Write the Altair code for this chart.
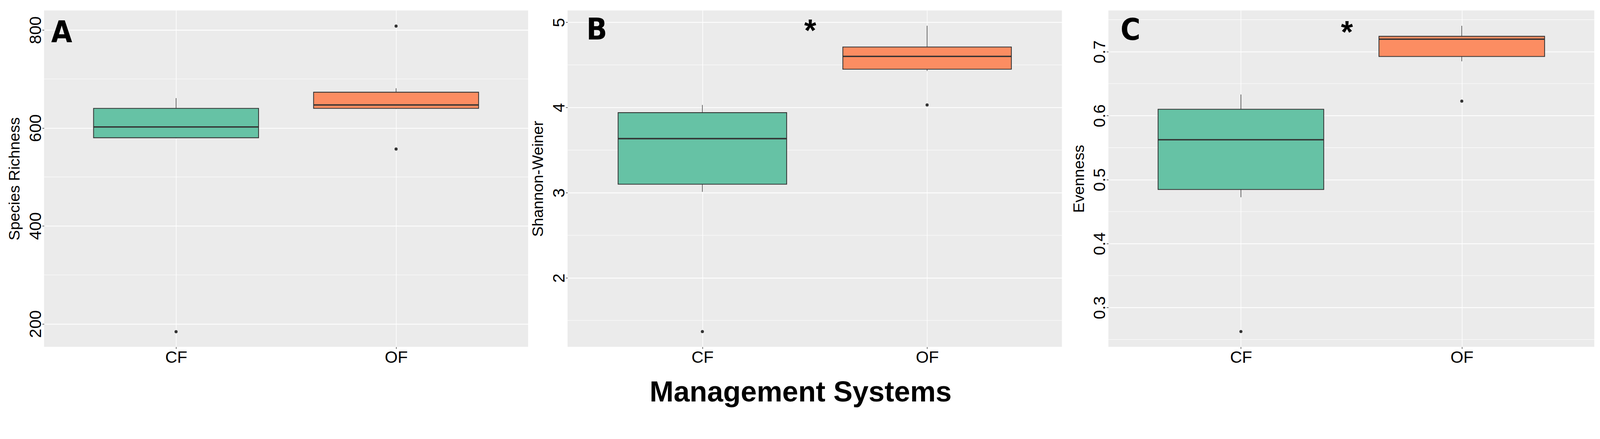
import json
import altair as alt
import pandas as pd

# ---------------- data ----------------
categories = ["CF", "OF"]
positions = [1, 2]
fill_colors = ["#66C2A5", "#FC8D62"]

rich_lower = [579, 639]
rich_q1 = [580, 640]
rich_median = [602, 647]
rich_q3 = [640, 673]
rich_upper = [661, 681]
rich_out_cat = ["CF", "OF", "OF"]
rich_out_val = [184, 808, 557]

shan_lower = [3.01, 4.43]
shan_q1 = [3.10, 4.45]
shan_median = [3.635, 4.60]
shan_q3 = [3.94, 4.71]
shan_upper = [4.03, 4.96]
shan_out_cat = ["CF", "OF"]
shan_out_val = [1.37, 4.03]

even_lower = [0.4725, 0.685]
even_q1 = [0.4845, 0.6925]
even_median = [0.5623, 0.7195]
even_q3 = [0.610, 0.724]
even_upper = [0.633, 0.7405]
even_out_cat = ["CF", "OF"]
even_out_val = [0.2625, 0.6227]

y_titles = ["Species Richness", "Shannon-Weiner", "Evenness"]
panel_letters = ["A", "B", "C"]
y_domains = [[153, 840], [1.19, 5.14], [0.2385, 0.7645]]
major_ticks = [[200, 400, 600, 800], [2, 3, 4, 5], [0.3, 0.4, 0.5, 0.6, 0.7]]
minor_ticks = [[300, 500, 700], [1.5, 2.5, 3.5, 4.5], [0.25, 0.35, 0.45, 0.55, 0.65, 0.75]]
letter_x = [0.48, 0.53, 0.50]
letter_y = [775, 4.80, 0.7186]
star_x = [None, 1.48, 1.48]
star_y = [None, 4.78, 0.7143]

panel_widths = [1313, 1341, 1318]
panel_height = 912

FONT = "Liberation Sans, Arial, Helvetica, sans-serif"
LETTER_FONT = "Liberation Sans Narrow, DejaVu Sans Condensed, Liberation Sans, sans-serif"
DARK = "#333333"

label_expr = f"{json.dumps(categories)}[datum.value - 1]"


def panel(i, lower, q1, med, q3, upper, out_cat, out_val):
    xs = alt.Scale(domain=[0.4, 2.6], nice=False, zero=False)
    ys = alt.Scale(domain=y_domains[i], nice=False, zero=False)
    xax = alt.Axis(
        values=positions, labelExpr=label_expr, title=None, grid=True,
        gridColor="white", gridWidth=1.6, domain=False, ticks=True,
        tickSize=5, tickColor=DARK, tickWidth=1.5, labelAngle=0,
        labelFontSize=45, labelFont=FONT, labelColor="black",
        labelPadding=2, labelBaseline="top", labelAlign="center")
    yax = alt.Axis(
        values=major_ticks[i], title=y_titles[i], grid=True,
        gridColor="white", gridWidth=2.2, domain=False, ticks=True,
        tickSize=5, tickColor=DARK, tickWidth=1.5, labelAngle=270,
        labelAlign="center", labelBaseline="alphabetic", labelPadding=4,
        labelFontSize=45, labelFont=FONT, labelColor="black",
        labelFlush=False, labelOverlap=False,
        titleFontSize=42, titleFont=FONT, titleFontWeight="normal",
        titleColor="black", titlePadding=22, titleBaseline="alphabetic")

    def X(f):
        return alt.X(f, scale=xs, axis=xax, title=None)

    def Y(f):
        return alt.Y(f, scale=ys, axis=yax, title=y_titles[i])

    stats = pd.DataFrame({
        "cat": categories, "pos": positions,
        "lower": lower, "q1": q1, "med": med, "q3": q3, "upper": upper,
    })
    pos_map = dict(zip(categories, positions))
    outs = pd.DataFrame({"cat": out_cat, "val": out_val})
    outs["pos"] = outs["cat"].map(pos_map)

    base = alt.Chart(stats).transform_calculate(
        xlo="datum.pos - 0.375", xhi="datum.pos + 0.375"
    )

    minor = alt.Chart(pd.DataFrame({"v": minor_ticks[i]})).mark_rule(
        color="white", strokeWidth=1.1
    ).encode(y=Y("v:Q"))

    whisk_hi = base.mark_rule(color=DARK, strokeWidth=1.5).encode(
        x=X("pos:Q"), y=Y("q3:Q"), y2="upper:Q")
    whisk_lo = base.mark_rule(color=DARK, strokeWidth=1.5).encode(
        x=X("pos:Q"), y=Y("lower:Q"), y2="q1:Q")

    box = base.mark_bar(stroke=DARK, strokeWidth=2.2, opacity=1).encode(
        x=X("xlo:Q"), x2="xhi:Q", y=Y("q1:Q"), y2="q3:Q",
        color=alt.Color("cat:N", scale=alt.Scale(domain=categories, range=fill_colors), legend=None),
    )

    median = base.mark_rule(color=DARK, strokeWidth=3.8).encode(
        x=X("xlo:Q"), x2="xhi:Q", y=Y("med:Q"))

    points = alt.Chart(outs).mark_circle(size=70, color=DARK, opacity=1).encode(
        x=X("pos:Q"), y=Y("val:Q"))

    letter = alt.Chart(pd.DataFrame({
        "x": [letter_x[i]], "y": [letter_y[i]], "t": [panel_letters[i]]
    })).mark_text(fontSize=82, fontWeight="bold", font=LETTER_FONT,
                  align="center", baseline="alphabetic", color="black").encode(
        x=X("x:Q"), y=Y("y:Q"), text="t:N")

    layers = [minor, whisk_hi, whisk_lo, box, median, points, letter]
    if star_x[i] is not None:
        star = alt.Chart(pd.DataFrame({
            "x": [star_x[i]], "y": [star_y[i]], "t": ["*"]
        })).mark_text(fontSize=84, fontWeight="bold", font=FONT,
                      align="center", baseline="alphabetic", color="black").encode(
            x=X("x:Q"), y=Y("y:Q"), text="t:N")
        layers.append(star)

    return alt.layer(*layers).properties(width=panel_widths[i], height=panel_height)


pA = panel(0, rich_lower, rich_q1, rich_median, rich_q3, rich_upper, rich_out_cat, rich_out_val)
pB = panel(1, shan_lower, shan_q1, shan_median, shan_q3, shan_upper, shan_out_cat, shan_out_val)
pC = panel(2, even_lower, even_q1, even_median, even_q3, even_upper, even_out_cat, even_out_val)

chart = alt.hconcat(alt.hconcat(pA, pB, spacing=5), pC, spacing=24).properties(
    title=alt.TitleParams(
        "Management Systems", orient="bottom", anchor="middle", fontSize=78,
        fontWeight="bold", font=FONT, color="black", offset=34),
    padding={"left": 10, "top": -12, "right": 6, "bottom": 2},
    background="white",
).configure_view(fill="#EBEBEB", stroke=None)

chart.save("out.html", embed_options={"renderer": "svg", "actions": False})
